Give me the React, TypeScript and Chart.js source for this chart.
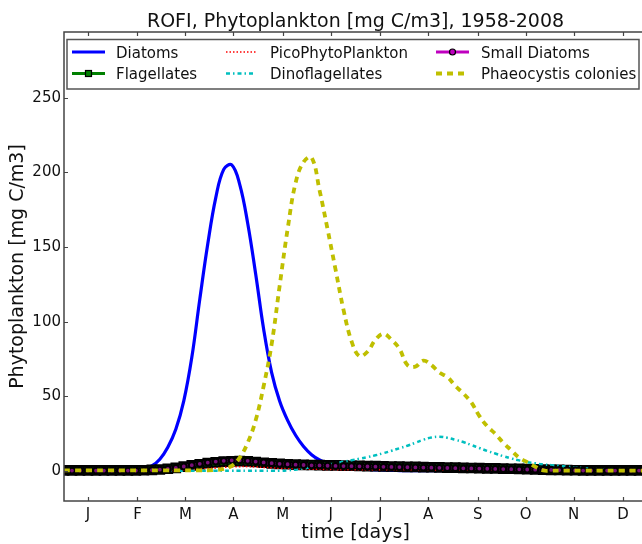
import React, { useEffect, useRef } from "react";
import { Chart, registerables } from "chart.js";

Chart.register(...registerables);

// ---------------- data ----------------
const days = [
  0, 5, 10, 15, 20, 25, 30, 35, 40, 45, 50, 55, 60, 65, 70, 75, 80, 85, 90, 95,
  100, 105, 110, 115, 120, 125, 130, 135, 140, 145, 150, 155, 160, 165, 170, 175, 180, 185, 190, 195,
  200, 205, 210, 215, 220, 225, 230, 235, 240, 245, 250, 255, 260, 265, 270, 275, 280, 285, 290, 295,
  300, 305, 310, 315, 320, 325, 330, 335, 340, 345, 350, 355, 360, 365,
];

const monthLabels = ["J", "F", "M", "A", "M", "J", "J", "A", "S", "O", "N", "D"];
const monthTickDays = [15, 46, 76, 106, 137, 167, 198, 228, 259, 289, 319, 350];
const yTickValues = [0, 50, 100, 150, 200, 250];

const diatoms = [
  0.5, 0.5, 0.5, 0.5, 0.5, 0.5, 0.5, 0.6, 0.7, 1.0, 1.6, 3.5, 8, 16, 28, 47, 76, 115, 152, 183,
  202, 205, 192, 166, 132, 95, 66, 47, 34, 24, 16.5, 11, 7.5, 5.5, 4, 3, 2.2, 1.6, 1.2, 0.9,
  0.7, 0.5, 0.4, 0.3, 0.3, 0.3, 0.3, 0.3, 0.3, 0.3, 0.3, 0.3, 0.3, 0.3, 0.3, 0.3, 0.3, 0.3, 0.3, 0.3,
  0.3, 0.4, 0.4, 0.4, 0.4, 0.4, 0.4, 0.4, 0.4, 0.4, 0.4, 0.4, 0.4, 0.4,
];

const flagellates = [
  0.5, 0.5, 0.5, 0.5, 0.5, 0.5, 0.5, 0.5, 0.5, 0.5, 0.6, 0.8, 1.1, 1.6, 2.2, 3.0, 3.8, 4.6, 5.3, 5.9,
  6.3, 6.6, 6.7, 6.5, 6.1, 5.6, 5.2, 4.9, 4.6, 4.4, 4.2, 4.1, 4.0, 3.9, 3.8, 3.7, 3.6, 3.5, 3.4, 3.3,
  3.2, 3.1, 3.0, 2.9, 2.8, 2.7, 2.6, 2.5, 2.4, 2.3, 2.2, 2.1, 2.0, 1.9, 1.8, 1.7, 1.6, 1.5, 1.4, 1.2,
  1.0, 0.9, 0.8, 0.7, 0.6, 0.5, 0.5, 0.5, 0.5, 0.5, 0.5, 0.5, 0.5, 0.5,
];

const picoPhytoPlankton = [
  0.3, 0.3, 0.3, 0.3, 0.3, 0.3, 0.3, 0.3, 0.3, 0.3, 0.3, 0.3, 0.3, 0.3, 0.5, 0.7, 1.0, 1.3, 1.7, 2.1,
  2.5, 2.8, 3.0, 3.0, 2.8, 2.5, 2.2, 1.9, 1.7, 1.5, 1.4, 1.3, 1.2, 1.1, 1.0, 1.0, 0.9, 0.9, 0.9, 0.9,
  0.9, 0.9, 0.9, 0.9, 0.8, 0.8, 0.8, 0.8, 0.8, 0.8, 0.8, 0.8, 0.8, 0.6, 0.6, 0.6, 0.6, 0.6, 0.6, 0.6,
  0.6, 0.4, 0.4, 0.4, 0.4, 0.4, 0.4, 0.4, 0.4, 0.4, 0.4, 0.4, 0.4, 0.4,
];

const dinoflagellates = [
  0.2, 0.2, 0.2, 0.2, 0.2, 0.2, 0.2, 0.2, 0.2, 0.2, 0.2, 0.2, 0.2, 0.2, 0.2, 0.2, 0.2, 0.2, 0.2, 0.2,
  0.2, 0.2, 0.2, 0.2, 0.2, 0.2, 0.2, 0.2, 0.5, 1.0, 1.8, 2.6, 3.4, 4.3, 5.3, 6.3, 7.3, 8.3, 9.4, 10.6,
  12, 13.6, 15.3, 17, 19, 21, 22.5, 23, 22.3, 21, 19.5, 17.5, 15.5, 13.5, 11.8, 10, 8.5, 7.2, 6, 5.2,
  4.5, 4, 3.5, 3, 2.5, 2, 1.6, 1.3, 1.0, 0.8, 0.7, 0.6, 0.5, 0.5,
];

const smallDiatoms = [
  0.4, 0.4, 0.4, 0.4, 0.4, 0.4, 0.4, 0.4, 0.4, 0.4, 0.5, 0.7, 1.0, 1.5, 2.2, 3.1, 4.0, 4.9, 5.7, 6.4,
  6.9, 7.2, 7.2, 6.9, 6.4, 5.8, 5.3, 4.9, 4.6, 4.3, 4.1, 3.9, 3.8, 3.6, 3.5, 3.4, 3.3, 3.2, 3.1, 3.0,
  2.9, 2.8, 2.7, 2.6, 2.5, 2.4, 2.3, 2.2, 2.1, 2.0, 1.9, 1.8, 1.7, 1.6, 1.5, 1.4, 1.3, 1.2, 1.1, 1.0,
  0.9, 0.8, 0.7, 0.6, 0.5, 0.4, 0.4, 0.4, 0.4, 0.4, 0.4, 0.4, 0.4, 0.4,
];

const phaeocystis = [
  0.5, 0.5, 0.5, 0.5, 0.5, 0.5, 0.5, 0.5, 0.5, 0.5, 0.5, 0.5, 0.5, 0.5, 0.5, 0.5, 0.5, 0.5, 0.5, 0.8,
  1.5, 3.5, 9, 19, 34, 57, 85, 124, 162, 193, 207, 210, 188, 162, 135, 108, 87, 77, 80, 88,
  92, 88, 82, 71, 70, 74, 71, 66, 63, 57, 52, 46, 37, 30, 25, 19, 14, 9, 6, 3,
  0.5, 0.3, 0.3, 0.3, 0.3, 0.3, 0.3, 0.3, 0.3, 0.3, 0.3, 0.3, 0.3, 0.3,
];

const titleText = "ROFI, Phytoplankton [mg C/m3], 1958-2008";
const xTitle = "time [days]";
const yTitle = "Phytoplankton [mg C/m3]";

const FONT = "'DejaVu Sans', sans-serif";

const series = [
  { label: "Diatoms", data: diatoms, color: "#0000ff", width: 3.2, dash: [] as number[], marker: null as null | string },
  { label: "Flagellates", data: flagellates, color: "#008000", width: 3, dash: [] as number[], marker: "rect" },
  { label: "PicoPhytoPlankton", data: picoPhytoPlankton, color: "#ff0000", width: 1.5, dash: [1.5, 2], marker: null },
  { label: "Dinoflagellates", data: dinoflagellates, color: "#00bfbf", width: 2.5, dash: [4, 3, 1.5, 3], marker: null },
  { label: "Small Diatoms", data: smallDiatoms, color: "#bf00bf", width: 3, dash: [] as number[], marker: "circle" },
  { label: "Phaeocystis colonies", data: phaeocystis, color: "#bfbf00", width: 3.8, dash: [6, 5], marker: null },
];

// legend layout: column-major like matplotlib (3 columns x 2 rows)
const legendPlugin = {
  id: "mplLegend",
  afterDraw(chart: any) {
    const ctx = chart.ctx as CanvasRenderingContext2D;
    ctx.save();
    ctx.fillStyle = "#ffffff";
    ctx.fillRect(67, 39.5, 572, 49.5);
    ctx.strokeStyle = "#555";
    ctx.lineWidth = 1.5;
    ctx.strokeRect(67, 39.5, 572, 49.5);
    const colX = [72, 226, 436];
    const textX = [116, 270, 481];
    const rowY = [52, 73.5];
    const sampleW = [33, 30, 33];
    ctx.font = `15px ${FONT}`;
    ctx.textBaseline = "alphabetic";
    ctx.textAlign = "left";
    series.forEach((s, i) => {
      const col = Math.floor(i / 2);
      const row = i % 2;
      const x0 = colX[col];
      const x1 = x0 + sampleW[col];
      const y = rowY[row];
      ctx.strokeStyle = s.color;
      ctx.lineWidth = s.width;
      ctx.setLineDash(s.dash);
      ctx.beginPath();
      ctx.moveTo(x0, y);
      ctx.lineTo(x1, y);
      ctx.stroke();
      ctx.setLineDash([]);
      const mx = (x0 + x1) / 2;
      if (s.marker === "rect") {
        ctx.fillStyle = s.color;
        ctx.fillRect(mx - 3, y - 3, 6, 6);
        ctx.strokeStyle = "#000";
        ctx.lineWidth = 1.2;
        ctx.strokeRect(mx - 3, y - 3, 6, 6);
      } else if (s.marker === "circle") {
        ctx.beginPath();
        ctx.arc(mx, y, 3, 0, Math.PI * 2);
        ctx.fillStyle = s.color;
        ctx.fill();
        ctx.strokeStyle = "#000";
        ctx.lineWidth = 1.2;
        ctx.stroke();
      }
      ctx.fillStyle = "#111";
      ctx.fillText(s.label, textX[col], y + 5.5);
    });
    ctx.restore();
  },
};

const framePlugin = {
  id: "mplFrame",
  afterDatasetsDraw(chart: any) {
    const ctx = chart.ctx as CanvasRenderingContext2D;
    const { left, right, top, bottom } = chart.chartArea;
    const xs = chart.scales.x;
    const ys = chart.scales.y;
    ctx.save();
    ctx.strokeStyle = "#444";
    ctx.lineWidth = 1.5;
    ctx.strokeRect(left, top, right - left, bottom - top);
    ctx.lineWidth = 1.2;
    const L = 4;
    ctx.beginPath();
    monthTickDays.forEach((d) => {
      const px = Math.round(xs.getPixelForValue(d)) + 0.5;
      ctx.moveTo(px, bottom);
      ctx.lineTo(px, bottom - L);
      ctx.moveTo(px, top);
      ctx.lineTo(px, top + L);
    });
    yTickValues.forEach((v) => {
      const py = Math.round(ys.getPixelForValue(v)) + 0.5;
      ctx.moveTo(left, py);
      ctx.lineTo(left + L, py);
      ctx.moveTo(right, py);
      ctx.lineTo(right - L, py);
    });
    ctx.stroke();
    ctx.fillStyle = "#111";
    ctx.font = `19px ${FONT}`;
    ctx.textAlign = "center";
    ctx.textBaseline = "alphabetic";
    ctx.fillText(titleText, (left + right) / 2, 27);
    ctx.restore();
  },
};

export default function App() {
  const canvasRef = useRef<HTMLCanvasElement | null>(null);

  useEffect(() => {
    if (!canvasRef.current) return;
    const datasets = series.map((s, i) => ({
      label: s.label,
      data: s.data.map((v, k) => ({ x: days[k], y: v })),
      borderColor: s.color,
      backgroundColor: s.color,
      borderWidth: s.width,
      borderDash: s.dash,
      borderCapStyle: "butt" as const,
      fill: false,
      tension: 0.4,
      pointRadius: s.marker === "rect" ? 6 : s.marker === "circle" ? 3 : 0,
      pointStyle: s.marker === "rect" ? "rect" : "circle",
      pointBackgroundColor: s.marker === "circle" ? "#7a107a" : s.color,
      pointBorderColor: "#000",
      pointBorderWidth: s.marker ? 2.2 : 0,
      pointHoverRadius: 0,
      order: series.length - 1 - i,
    }));

    const chart = new Chart(canvasRef.current, {
      type: "line",
      data: { datasets },
      options: {
        animation: false,
        responsive: false,
        devicePixelRatio: 1,
        events: [],
        layout: { padding: { top: 32, right: 13, bottom: 0, left: 0 } },
        plugins: {
          legend: { display: false },
          title: { display: false },
          tooltip: { enabled: false },
        },
        scales: {
          x: {
            type: "linear",
            min: 0,
            max: 365,
            afterBuildTicks: (s: any) => {
              s.ticks = monthTickDays.map((v) => ({ value: v }));
            },
            afterFit: (s: any) => {
              s.height = 43;
            },
            ticks: {
              autoSkip: false,
              maxRotation: 0,
              padding: 5,
              color: "#111",
              font: { family: FONT, size: 15 },
              callback: (_v: any, i: number) => monthLabels[i],
            },
            grid: { display: false, drawTicks: false },
            border: { display: false },
            title: {
              display: true,
              text: xTitle,
              color: "#111",
              font: { family: FONT, size: 19 },
              padding: { top: 0, bottom: 0 },
            },
          },
          y: {
            type: "linear",
            min: -20,
            max: 294,
            afterBuildTicks: (s: any) => {
              s.ticks = yTickValues.map((v) => ({ value: v }));
            },
            afterFit: (s: any) => {
              s.width = 64;
            },
            ticks: {
              padding: 3,
              color: "#111",
              font: { family: FONT, size: 15 },
            },
            grid: { display: false, drawTicks: false },
            border: { display: false },
            title: {
              display: true,
              text: yTitle,
              color: "#111",
              font: { family: FONT, size: 19 },
              padding: { top: 7, bottom: 0 },
            },
          },
        },
      },
      plugins: [framePlugin, legendPlugin],
    });
    return () => chart.destroy();
  }, []);

  return (
    <div style={{ position: "fixed", left: 0, top: 0, width: 642, height: 544, overflow: "hidden", background: "#fff" }}>
      <div style={{ position: "absolute", left: 0, top: 0, width: 660, height: 544 }}>
        <canvas ref={canvasRef} width={660} height={544} style={{ display: "block", width: 660, height: 544 }} />
      </div>
    </div>
  );
}
